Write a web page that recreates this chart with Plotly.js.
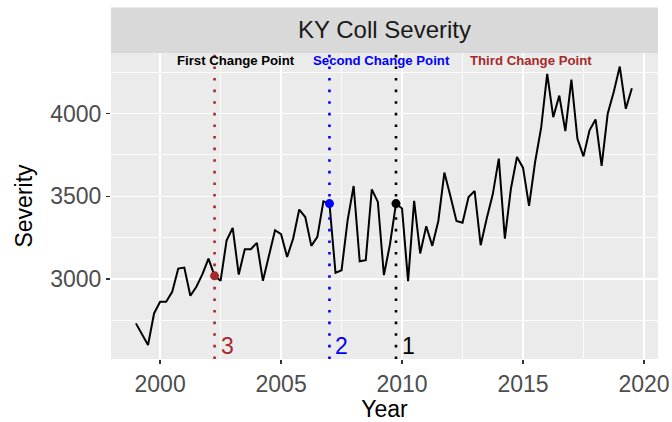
<!DOCTYPE html>
<html>
<head>
<meta charset="utf-8">
<script src="https://cdn.plot.ly/plotly-3.0.1.min.js"></script>
<style>html,body{margin:0;padding:0;background:#fff;}#chart{width:672px;height:422px;}</style>
</head>
<body>
<div id="chart"></div>
<script>
// Quarterly time (decimal year)
const years = [
 1999.00,1999.25,1999.50,1999.75,
 2000.00,2000.25,2000.50,2000.75,
 2001.00,2001.25,2001.50,2001.75,
 2002.00,2002.25,2002.50,2002.75,
 2003.00,2003.25,2003.50,2003.75,
 2004.00,2004.25,2004.50,2004.75,
 2005.00,2005.25,2005.50,2005.75,
 2006.00,2006.25,2006.50,2006.75,
 2007.00,2007.25,2007.50,2007.75,
 2008.00,2008.25,2008.50,2008.75,
 2009.00,2009.25,2009.50,2009.75,
 2010.00,2010.25,2010.50,2010.75,
 2011.00,2011.25,2011.50,2011.75,
 2012.00,2012.25,2012.50,2012.75,
 2013.00,2013.25,2013.50,2013.75,
 2014.00,2014.25,2014.50,2014.75,
 2015.00,2015.25,2015.50,2015.75,
 2016.00,2016.25,2016.50,2016.75,
 2017.00,2017.25,2017.50,2017.75,
 2018.00,2018.25,2018.50,2018.75,
 2019.00,2019.25,2019.50
];
const severity = [
 2733,2667,2602,2793,
 2863,2863,2924,3064,
 3070,2900,2954,3030,
 3124,3020,2990,3235,
 3309,3028,3181,3181,
 3219,2990,3145,3295,
 3271,3134,3245,3420,
 3375,3201,3255,3470,
 3456,3038,3054,3355,
 3562,3108,3114,3542,
 3466,3024,3209,3456,
 3426,2988,3472,3155,
 3319,3201,3351,3643,
 3500,3351,3341,3496,
 3532,3205,3366,3512,
 3727,3245,3546,3737,
 3673,3442,3707,3914,
 4239,3978,4108,3893,
 4205,3847,3741,3898,
 3964,3683,3998,4129,
 4283,4028,4152
];
// Change points
const cpYears  = [2009.75, 2007.00, 2002.25];
const cpValues = [3456, 3456, 3020];
const cpLabels = ["1", "2", "3"];
const cpColors = ["#000000", "#0000FF", "#A52A2A"];
// Header labels
const headTexts  = ["First Change Point", "Second Change Point", "Third Change Point"];
const headYears  = [2003.15, 2009.15, 2015.33];
const headColors = ["#000000", "#0000FF", "#A52A2A"];
const headY = 4322;
const numY = 2594;
const xTicks = [2000, 2005, 2010, 2015, 2020];
const yTicks = [3000, 3500, 4000];

const FONT = "Liberation Sans, Arial, Helvetica, sans-serif";

const traces = [
  {x: years, y: severity, type: "scatter", mode: "lines",
   line: {color: "#000000", width: 2}, hoverinfo: "x+y", showlegend: false},
  {x: cpYears, y: cpValues, type: "scatter", mode: "markers",
   marker: {color: cpColors, size: 9}, showlegend: false}
];

const shapes = [
  {type: "rect", xref: "paper", yref: "paper", x0: 0, x1: 1, y0: 1, y1: 1.149,
   fillcolor: "#D9D9D9", line: {width: 0}, layer: "below"}
];
cpYears.forEach((c, i) => shapes.push({
  type: "line", xref: "x", yref: "paper", x0: c, x1: c, y0: 0, y1: 1,
  line: {color: cpColors[i], width: 2.6, dash: "2.6px,9px"}, layer: "above"
}));

const annotations = [];
headTexts.forEach((t, i) => annotations.push({
  x: headYears[i], y: headY, xref: "x", yref: "y", text: "<b>" + t + "</b>",
  showarrow: false, xanchor: "center", yanchor: "middle",
  font: {family: FONT, size: 13.2, color: headColors[i]}
}));
cpLabels.forEach((t, i) => annotations.push({
  x: cpYears[i], y: numY, xref: "x", yref: "y", text: t, xshift: 4,
  showarrow: false, xanchor: "left", yanchor: "middle",
  font: {family: FONT, size: 23, color: cpColors[i]}
}));

const layout = {
  width: 672, height: 422,
  paper_bgcolor: "#FFFFFF", plot_bgcolor: "#EBEBEB",
  margin: {l: 111, r: 14, t: 52.7, b: 62.7},
  font: {family: FONT, color: "#000000"},
  title: {text: "KY Coll Severity", x: 0.5, xref: "paper", xanchor: "center",
          y: 1 - 29.5/422, yref: "container", yanchor: "middle",
          font: {family: FONT, size: 24, color: "#1A1A1A"}},
  xaxis: {range: [1997.97, 2020.58], tickvals: xTicks, showgrid: true,
          gridcolor: "#FFFFFF", gridwidth: 1.6, zeroline: false,
          ticks: "outside", ticklen: 4, tickwidth: 1.5, tickcolor: "#333333",
          tickfont: {family: FONT, size: 23, color: "#4D4D4D"},
          minor: {dtick: 2.5, tick0: 2000, showgrid: true, gridcolor: "#FFFFFF", gridwidth: 0.8, ticks: ""},
          showline: false,
          title: {text: "Year", font: {family: FONT, size: 23, color: "#000000"}, standoff: 6}},
  yaxis: {range: [2518, 4365], tickvals: yTicks, showgrid: true,
          gridcolor: "#FFFFFF", gridwidth: 1.6, zeroline: false,
          ticks: "outside", ticklen: 4, tickwidth: 1.5, tickcolor: "#333333",
          tickfont: {family: FONT, size: 23, color: "#4D4D4D"},
          minor: {dtick: 250, tick0: 3000, showgrid: true, gridcolor: "#FFFFFF", gridwidth: 0.8, ticks: ""},
          showline: false,
          title: {text: "Severity", font: {family: FONT, size: 23, color: "#000000"}, standoff: 11}},
  shapes: shapes,
  annotations: annotations,
  showlegend: false
};

Plotly.newPlot("chart", traces, layout, {staticPlot: true, displayModeBar: false});
</script>
</body>
</html>
